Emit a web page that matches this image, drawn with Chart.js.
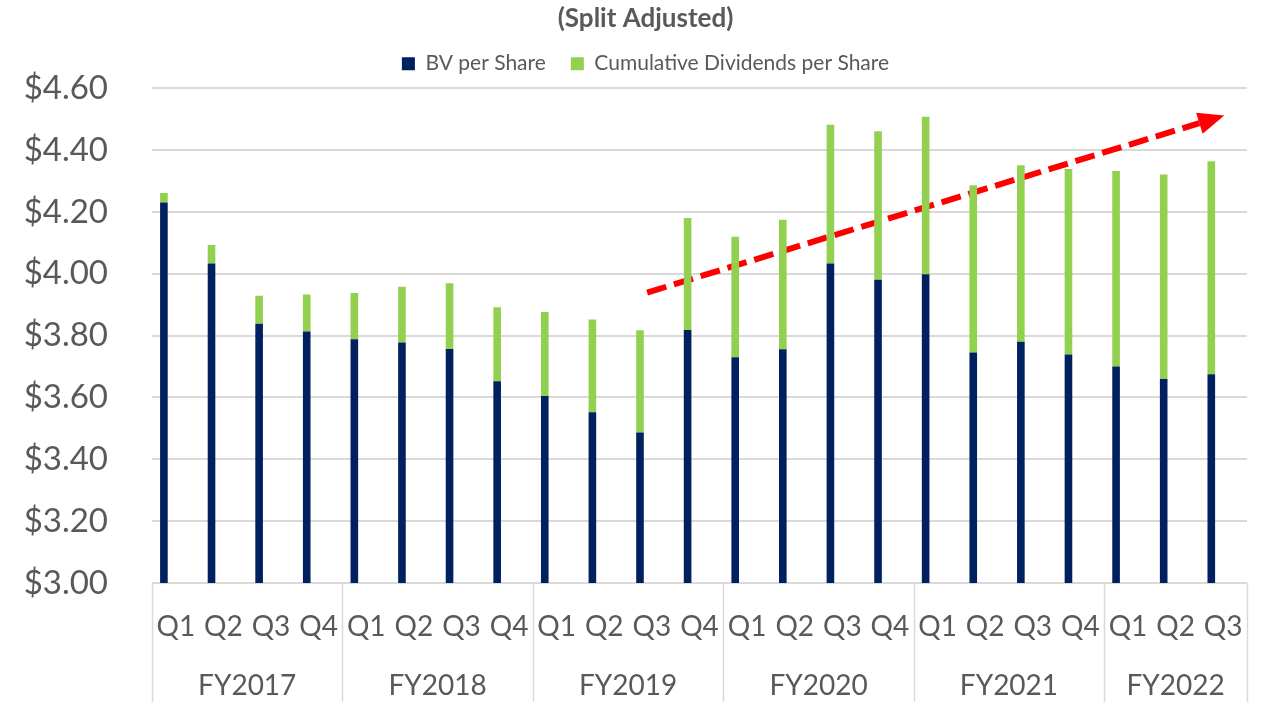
<!DOCTYPE html>
<html>
<head>
<meta charset="utf-8">
<script src="https://cdn.jsdelivr.net/npm/chart.js@4"></script>
<style>
  body { margin: 0; background: #fff; }
  #wrap { width: 1269px; height: 702px; }
</style>
</head>
<body>
<div id="wrap"><canvas id="chart"></canvas></div>
<script>
const quarters = ['Q1','Q2','Q3','Q4','Q1','Q2','Q3','Q4','Q1','Q2','Q3','Q4',
                  'Q1','Q2','Q3','Q4','Q1','Q2','Q3','Q4','Q1','Q2','Q3'];
const fiscalYears = ['FY2017','FY2018','FY2019','FY2020','FY2021','FY2022'];
const quartersPerYear = [4, 4, 4, 4, 4, 3];

const bvPerShare = [4.230, 4.033, 3.838, 3.813, 3.788, 3.778, 3.757, 3.652, 3.605, 3.552, 3.487, 3.818,
                    3.730, 3.756, 4.033, 3.981, 3.998, 3.745, 3.780, 3.739, 3.700, 3.660, 3.675];
const cumDividends = [0.031, 0.060, 0.091, 0.120, 0.150, 0.180, 0.212, 0.240, 0.271, 0.300, 0.330, 0.362,
                      0.390, 0.419, 0.449, 0.480, 0.510, 0.541, 0.571, 0.600, 0.632, 0.661, 0.689];

// trend arrow, in (category index, value)
const trendLine = [{ x: 9.9, y: 3.939 }, { x: 21.5, y: 4.487 }];

const yTicks = [3.0, 3.2, 3.4, 3.6, 3.8, 4.0, 4.2, 4.4, 4.6];

const grey = '#595959';
const gridGrey = '#d9d9d9';
const font = 'Lato, sans-serif';

const yearAxisPlugin = {
  id: 'yearAxis',
  // let the $ labels reach into the left padding instead of being clipped
  afterLayout(chart) { chart.scales.y.left = 0; },
  afterDraw(chart) {
    const ctx = chart.ctx;
    const xl = chart.scales.xl;
    const top = chart.chartArea.bottom;
    const bottom = chart.height;
    ctx.save();
    ctx.strokeStyle = gridGrey;
    ctx.lineWidth = 1.5;
    let start = -0.5;
    const edges = [start];
    quartersPerYear.forEach(n => { start += n; edges.push(start); });
    edges.forEach(e => {
      const px = Math.round(xl.getPixelForValue(e)) + 0.5;
      ctx.beginPath();
      ctx.moveTo(px, top);
      ctx.lineTo(px, bottom);
      ctx.stroke();
    });
    ctx.fillStyle = grey;
    ctx.font = '28px ' + font;
    ctx.textAlign = 'center';
    ctx.textBaseline = 'middle';
    fiscalYears.forEach((fy, i) => {
      const mid = (edges[i] + edges[i + 1]) / 2;
      ctx.fillText(fy, xl.getPixelForValue(mid), 686);
    });
    ctx.restore();
  }
};

const arrowHeadPlugin = {
  id: 'arrowHead',
  afterDatasetsDraw(chart) {
    const pts = chart.getDatasetMeta(2).data;
    if (pts.length < 2) return;
    const p0 = pts[pts.length - 2], p1 = pts[pts.length - 1];
    const ang = Math.atan2(p1.y - p0.y, p1.x - p0.x);
    const len = 26, half = 11;
    const ctx = chart.ctx;
    ctx.save();
    ctx.translate(p1.x, p1.y);
    ctx.rotate(ang);
    ctx.fillStyle = '#ff0000';
    ctx.beginPath();
    ctx.moveTo(len, 0);
    ctx.lineTo(0, -half);
    ctx.lineTo(0, half);
    ctx.closePath();
    ctx.fill();
    ctx.restore();
  }
};

new Chart(document.getElementById('chart'), {
  data: {
    labels: quarters,
    datasets: [
      {
        type: 'bar',
        label: 'BV per Share',
        data: bvPerShare,
        backgroundColor: '#002060',
        categoryPercentage: 1,
        barPercentage: 0.32,
        stack: 's'
      },
      {
        type: 'bar',
        label: 'Cumulative Dividends per Share',
        data: cumDividends,
        backgroundColor: '#92d050',
        categoryPercentage: 1,
        barPercentage: 0.32,
        stack: 's'
      },
      {
        type: 'line',
        label: 'trend',
        data: trendLine,
        xAxisID: 'xl',
        borderColor: '#ff0000',
        borderWidth: 6,
        borderDash: [20, 8],
        borderCapStyle: 'butt',
        pointRadius: 0,
        fill: false,
        stack: 'trend'
      }
    ]
  },
  options: {
    responsive: true,
    maintainAspectRatio: false,
    animation: false,
    layout: { padding: { top: 0, right: 22, bottom: 61, left: 44 } },
    plugins: {
      title: {
        display: true,
        text: '(Split Adjusted)',
        color: grey,
        font: { family: font, size: 26, weight: 'bold' },
        padding: { top: 3, bottom: -6 }
      },
      legend: {
        display: true,
        labels: {
          color: grey,
          font: { family: font, size: 21 },
          boxWidth: 13,
          boxHeight: 13,
          padding: 25,
          filter: item => item.datasetIndex < 2
        }
      },
      tooltip: { enabled: false }
    },
    scales: {
      x: {
        stacked: true,
        grid: { display: false },
        border: { display: false },
        afterFit: s => { s.height = 58; },
        ticks: {
          color: grey,
          font: { family: font, size: 28 },
          padding: 19,
          maxRotation: 0,
          autoSkip: false
        }
      },
      xl: {
        type: 'linear',
        position: 'top',
        display: true,
        min: -0.5,
        max: quarters.length - 0.5,
        grid: { display: false },
        border: { display: false },
        ticks: { display: false },
        afterFit: s => { s.height = 4; }
      },
      y: {
        stacked: true,
        min: 3.0,
        max: 4.6,
        afterFit: s => { s.width = 108; },
        afterBuildTicks: s => { s.ticks = yTicks.map(v => ({ value: v })); },
        border: { display: false },
        grid: { color: gridGrey, lineWidth: 2, drawTicks: false },
        ticks: {
          color: grey,
          font: { family: font, size: 33 },
          padding: 44,
          callback: v => '$' + Number(v).toFixed(2)
        }
      }
    }
  },
  plugins: [yearAxisPlugin, arrowHeadPlugin]
});
</script>
</body>
</html>
